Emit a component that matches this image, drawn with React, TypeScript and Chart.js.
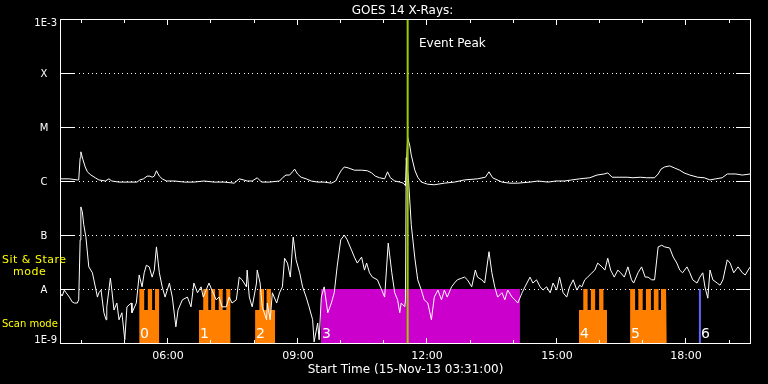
import { useEffect, useRef } from 'react';
import { Chart, registerables } from 'chart.js';

Chart.register(...registerables);

// ---- Axis definitions ----
const START_MINUTES = 211; // 03:31 UT
const END_MINUTES = 1171; // 19:31 UT
const classDecades = [-9, -8, -7, -6, -5, -4, -3];
const classLabels = ['1E-9', 'A', 'B', 'C', 'M', 'X', '1E-3'];
const hourTickMinutes = [240, 300, 360, 420, 480, 540, 600, 660, 720, 780, 840, 900, 960, 1020, 1080, 1140];
const labeledTickMinutes = [360, 540, 720, 900, 1080];
const labeledTickText = ['06:00', '09:00', '12:00', '15:00', '18:00'];

// ---- GOES 14 long channel (1-8 A): time in minutes after 00:00 UT, log10 flux ----
const longTimes = [
  211, 224, 235, 237, 239, 240, 243, 246, 249, 254,
  260, 265, 274, 279, 283, 293, 307, 318, 322, 327,
  332, 336, 339, 342, 345, 349, 353, 359, 370, 384,
  397, 411, 425, 439, 453, 460, 466, 471, 478, 485,
  491, 502, 516, 521, 525, 530, 534, 537, 541, 546,
  553, 560, 569, 578, 588, 594, 598, 602, 606, 612,
  620, 630, 638, 644, 649, 655, 662, 666, 670, 676,
  683, 688, 691, 694, 697, 699, 704, 708, 713, 722,
  731, 745, 759, 773, 791, 802, 807, 812, 825, 836,
  847, 864, 875, 889, 900, 912, 922, 933, 947, 957,
  967, 972, 978, 989, 999, 1007, 1017, 1026, 1037, 1042,
  1046, 1051, 1058, 1065, 1072, 1078, 1086, 1097, 1106, 1114,
  1122, 1131, 1138, 1143, 1150, 1159, 1170,
];
const longLogFlux = [
  -5.96, -5.96, -5.98, -5.98, -5.57, -5.46, -5.61, -5.74, -5.83, -5.89,
  -5.94, -5.98, -6.0, -5.96, -6.0, -6.02, -6.02, -6.02, -5.98, -5.96,
  -5.91, -5.91, -5.93, -5.91, -5.81, -5.91, -5.96, -6.0, -6.0, -6.02,
  -6.02, -6.0, -6.02, -6.02, -6.04, -5.96, -5.98, -6.0, -6.0, -5.94,
  -6.02, -6.02, -6.0, -5.93, -5.89, -5.89, -5.83, -5.78, -5.87, -5.93,
  -5.96, -6.0, -6.02, -6.02, -6.04, -6.0, -5.89, -5.8, -5.74, -5.76,
  -5.8, -5.8, -5.81, -5.85, -5.91, -5.94, -5.96, -5.83, -5.94, -6.0,
  -6.02, -6.04, -6.09, -5.19, -5.35, -5.52, -5.8, -5.93, -6.02, -6.06,
  -6.07, -6.04, -6.02, -5.98, -5.96, -5.93, -5.83, -5.94, -6.02, -6.04,
  -6.04, -6.02, -6.0, -6.02, -6.0, -6.0, -5.98, -5.96, -5.94, -5.89,
  -5.87, -5.85, -5.93, -5.93, -5.93, -5.94, -5.93, -5.94, -5.94, -5.87,
  -5.78, -5.74, -5.72, -5.76, -5.8, -5.85, -5.89, -5.93, -5.94, -5.98,
  -5.96, -5.94, -5.87, -5.87, -5.87, -5.89, -5.87,
];

// ---- GOES 14 short channel (0.5-4 A): time in minutes after 00:00 UT, log10 flux ----
const shortTimes = [
  211, 214, 217, 219, 224, 228, 231, 235, 237, 239,
  240, 242, 244, 247, 251, 256, 261, 263, 265, 268,
  272, 275, 276, 281, 283, 286, 290, 293, 297, 301,
  304, 310, 311, 317, 321, 325, 328, 331, 335, 339,
  342, 345, 349, 353, 357, 363, 367, 372, 375, 381,
  388, 393, 397, 402, 407, 410, 414, 418, 422, 428,
  432, 436, 442, 446, 450, 456, 460, 464, 470, 471,
  474, 478, 484, 485, 489, 492, 498, 499, 503, 506,
  512, 516, 520, 523, 527, 531, 535, 539, 544, 548,
  553, 557, 562, 564, 569, 571, 574, 578, 583, 588,
  592, 596, 601, 606, 610, 616, 620, 624, 630, 634,
  637, 641, 645, 652, 658, 662, 667, 672, 676, 680,
  683, 685, 690, 691, 692, 695, 699, 704, 708, 713,
  717, 722, 727, 731, 736, 741, 745, 749, 755, 759,
  763, 769, 773, 777, 783, 788, 791, 797, 801, 807,
  811, 815, 819, 825, 829, 833, 839, 843, 847, 853,
  857, 864, 868, 873, 878, 882, 887, 892, 896, 901,
  905, 910, 915, 919, 924, 929, 933, 936, 940, 944,
  950, 954, 958, 964, 968, 972, 976, 981, 986, 990,
  995, 1000, 1005, 1008, 1014, 1019, 1024, 1028, 1033, 1037,
  1042, 1047, 1051, 1058, 1063, 1068, 1072, 1076, 1082, 1086,
  1090, 1096, 1100, 1104, 1107, 1111, 1114, 1118, 1124, 1128,
  1132, 1138, 1142, 1147, 1153, 1159, 1163, 1167, 1170,
];
const shortLogFlux = [
  -8.07, -8.13, -8.02, -8.06, -8.15, -8.24, -8.26, -8.26, -8.2, -7.09,
  -6.48, -6.57, -6.81, -7.04, -7.59, -7.7, -8.02, -8.15, -8.07, -8.02,
  -8.44, -8.57, -8.33, -7.8, -8.02, -8.39, -8.26, -8.57, -8.44, -8.94,
  -8.33, -8.26, -8.44, -8.26, -7.74, -7.96, -7.7, -7.56, -7.59, -7.78,
  -7.65, -7.22, -7.7, -7.96, -8.15, -7.89, -8.15, -8.7, -8.39, -8.2,
  -8.15, -8.33, -7.89, -8.07, -7.96, -8.15, -8.02, -7.89, -8.02, -8.2,
  -8.15, -8.33, -8.33, -8.15, -8.26, -8.2, -7.78, -7.83, -7.96, -7.65,
  -8.15, -8.33, -7.89, -7.65, -7.89, -8.33, -8.57, -8.26, -8.57, -8.07,
  -8.26, -8.07, -7.96, -7.43, -7.52, -7.78, -7.04, -7.46, -7.7, -7.96,
  -8.15, -8.33, -8.57, -8.98, -8.63, -8.94, -8.15, -7.96, -8.44, -8.26,
  -8.07, -7.59, -7.09, -7.0, -7.09, -7.28, -7.41, -7.52, -7.41, -7.65,
  -7.52, -7.7, -7.78, -7.83, -8.02, -8.15, -7.15, -7.7, -8.07, -8.2,
  -8.44, -8.26, -8.33, -8.2, -5.57, -5.94, -6.81, -7.43, -7.83, -8.02,
  -8.2, -8.26, -8.57, -8.15, -8.02, -8.2, -8.02, -8.15, -7.96, -7.89,
  -7.83, -7.8, -7.78, -7.83, -7.96, -7.65, -7.78, -7.83, -7.89, -7.31,
  -7.7, -7.96, -8.15, -8.07, -8.2, -8.02, -8.15, -8.2, -8.26, -8.07,
  -7.96, -7.78, -7.89, -7.83, -7.96, -8.02, -7.96, -8.07, -7.89, -8.02,
  -7.78, -8.07, -8.15, -7.96, -7.83, -8.02, -7.93, -7.96, -7.83, -7.78,
  -7.7, -7.65, -7.52, -7.59, -7.65, -7.43, -7.65, -7.78, -7.65, -7.7,
  -7.78, -7.59, -7.83, -7.89, -7.7, -7.59, -7.78, -7.78, -7.83, -7.83,
  -7.22, -7.19, -7.22, -7.24, -7.41, -7.52, -7.65, -7.7, -7.59, -7.7,
  -7.83, -7.89, -7.78, -7.7, -7.96, -8.17, -7.65, -7.83, -7.89, -7.93,
  -7.83, -7.46, -7.52, -7.7, -7.59, -7.7, -7.74, -7.65, -7.59,
];

// ---- Observation mode blocks (minutes after 00:00 UT) ----
const scanLabels = ['0', '1', '2', '4', '5'];
const scanStart = [321, 404, 482, 932, 1003];
const scanEnd = [349, 448, 510, 971, 1054];
const scanTeethStart = [
  [321, 333, 343],
  [410, 421, 431.5, 442],
  [488, 498],
  [938, 948.5, 960],
  [1003, 1014.5, 1025, 1036, 1046],
];
const scanTeethEnd = [
  [328, 339, 349],
  [417, 426.5, 437, 448],
  [494.5, 504],
  [944, 954.5, 966],
  [1010, 1020.5, 1032, 1042.5, 1053],
];
const SCAN_BASE_FLUX = 4.1e-9;
const MODE_TOP_FLUX = 1e-8;
const sitStareLabel = '3';
const sitStareStart = 573.5;
const sitStareEnd = 850;
const pointingLabel = '6';
const pointingTime = 1100;
const eventPeakTime = 694;

const FONT = '"DejaVu Sans", sans-serif';
const ORANGE = '#ff8000';
const MAGENTA = '#cc00cc';
const BLUE = '#6464ff';
const GREEN = '#9ccc00';

type Pt = { x: number; y: number };

function buildScanPolygon(i: number): Pt[] {
  const pts: Pt[] = [
    { x: scanStart[i], y: 1e-9 },
    { x: scanStart[i], y: SCAN_BASE_FLUX },
  ];
  scanTeethStart[i].forEach((s, k) => {
    const e = scanTeethEnd[i][k];
    pts.push({ x: s, y: SCAN_BASE_FLUX }, { x: s, y: MODE_TOP_FLUX }, { x: e, y: MODE_TOP_FLUX }, { x: e, y: SCAN_BASE_FLUX });
  });
  pts.push({ x: scanEnd[i], y: SCAN_BASE_FLUX }, { x: scanEnd[i], y: 1e-9 });
  return pts;
}

const decorPlugin = {
  id: 'goesDecor',
  beforeDatasetsDraw(chart: any) {
    const { ctx, chartArea: a, scales } = chart;
    const y = scales.y;
    ctx.save();
    ctx.fillStyle = '#ffffff';
    for (let i = 1; i < classDecades.length - 1; i++) {
      const py = Math.round(y.getPixelForValue(Math.pow(10, classDecades[i])));
      ctx.fillRect(a.left, py, 15, 1);
      ctx.fillRect(a.right - 15, py, 15, 1);
      for (let px = a.left + 19; px < a.right - 17; px += 4.33) {
        ctx.fillRect(Math.round(px), py, 1, 1);
      }
    }
    ctx.restore();
  },
  afterDatasetsDraw(chart: any) {
    const { ctx, chartArea: a, scales } = chart;
    const x = scales.x;
    const y = scales.y;
    const left = a.left;
    const right = a.right - 1;
    const top = a.top;
    const bottom = a.bottom;
    ctx.save();
    ctx.fillStyle = '#ffffff';
    // frame
    ctx.fillRect(left, top, right - left + 1, 1);
    ctx.fillRect(left, bottom, right - left + 1, 1);
    ctx.fillRect(left, top, 1, bottom - top + 1);
    ctx.fillRect(right, top, 1, bottom - top + 1);
    // hour ticks
    hourTickMinutes.forEach((m) => {
      const px = Math.round(x.getPixelForValue(m));
      const len = labeledTickMinutes.includes(m) ? 6 : 4;
      ctx.fillRect(px, top, 1, len);
      ctx.fillRect(px, bottom - len + 1, 1, len);
    });

    // mode numbers
    ctx.font = `14px ${FONT}`;
    ctx.textAlign = 'left';
    ctx.textBaseline = 'alphabetic';
    scanLabels.forEach((lab, i) => {
      ctx.fillText(lab, Math.round(x.getPixelForValue(scanStart[i])) + 1, 338);
    });
    ctx.fillText(sitStareLabel, Math.round(x.getPixelForValue(sitStareStart)) + 1, 338);
    ctx.fillText(pointingLabel, Math.round(x.getPixelForValue(pointingTime)) + 1, 338);

    // event peak label
    ctx.font = `12px ${FONT}`;
    ctx.fillText('Event Peak', Math.round(x.getPixelForValue(eventPeakTime)) + 11, 47);

    // title
    const cx = (a.left + a.right) / 2;
    ctx.textAlign = 'center';
    ctx.fillText('GOES 14 X-Rays:', cx - 3, 14);

    // x tick labels
    ctx.font = `11px ${FONT}`;
    labeledTickMinutes.forEach((m, i) => {
      ctx.fillText(labeledTickText[i], Math.round(x.getPixelForValue(m)) + 1, 359);
    });
    ctx.font = `12px ${FONT}`;
    ctx.fillText('Start Time (15-Nov-13 03:31:00)', cx, 373);

    // y labels
    ctx.font = `10px ${FONT}`;
    ctx.textBaseline = 'middle';
    classDecades.forEach((d, i) => {
      const py = y.getPixelForValue(Math.pow(10, d));
      if (i === 0) {
        ctx.textAlign = 'right';
        ctx.fillText(classLabels[i], 57, py - 3);
      } else if (i === classDecades.length - 1) {
        ctx.textAlign = 'right';
        ctx.fillText(classLabels[i], 57, py + 4);
      } else {
        ctx.textAlign = 'center';
        ctx.fillText(classLabels[i], 44, py + 1);
      }
    });

    // mode legend on the left
    ctx.fillStyle = '#ffff00';
    ctx.textAlign = 'left';
    ctx.textBaseline = 'alphabetic';
    ctx.font = `11px ${FONT}`;
    ctx.letterSpacing = '0.5px';
    ctx.fillText('Sit & Stare', 2, 263);
    ctx.fillText('mode', 13, 275);
    ctx.letterSpacing = '0px';
    ctx.font = `10px ${FONT}`;
    ctx.fillText('Scan mode', 2, 327);
    ctx.restore();
  },
};

export default function App() {
  const canvasRef = useRef<HTMLCanvasElement | null>(null);

  useEffect(() => {
    document.body.style.margin = '0';
    document.body.style.background = '#000';
    const canvas = canvasRef.current;
    if (!canvas) return;

    const longData = longTimes.map((t, i) => ({ x: t, y: Math.pow(10, longLogFlux[i]) }));
    const shortData = shortTimes.map((t, i) => ({ x: t, y: Math.pow(10, shortLogFlux[i]) }));

    const datasets: any[] = [
      {
        label: 'Event Peak',
        data: [
          { x: eventPeakTime, y: 1e-9 },
          { x: eventPeakTime, y: 1e-3 },
        ],
        borderColor: GREEN,
        borderWidth: 2,
        pointRadius: 0,
        fill: false,
        order: 0,
      },
      {
        label: 'Long',
        data: longData,
        borderColor: '#ffffff',
        borderWidth: 1,
        pointRadius: 0,
        fill: false,
        order: 1,
      },
      {
        label: 'Short',
        data: shortData,
        borderColor: '#ffffff',
        borderWidth: 1,
        pointRadius: 0,
        fill: false,
        order: 1,
      },
      {
        label: 'Pointing',
        data: [
          { x: pointingTime, y: 1e-9 },
          { x: pointingTime, y: MODE_TOP_FLUX },
        ],
        borderColor: BLUE,
        borderWidth: 2,
        pointRadius: 0,
        fill: false,
        order: 2,
      },
      {
        label: 'Sit & Stare',
        data: [
          { x: sitStareStart, y: 1e-9 },
          { x: sitStareStart, y: MODE_TOP_FLUX },
          { x: sitStareEnd, y: MODE_TOP_FLUX },
          { x: sitStareEnd, y: 1e-9 },
        ],
        borderColor: 'transparent',
        borderWidth: 0,
        backgroundColor: MAGENTA,
        pointRadius: 0,
        fill: 'start',
        order: 3,
      },
      ...scanStart.map((_, i) => ({
        label: 'Scan ' + scanLabels[i],
        data: buildScanPolygon(i),
        borderColor: 'transparent',
        borderWidth: 0,
        backgroundColor: ORANGE,
        pointRadius: 0,
        fill: 'start',
        order: 3,
      })),
    ];

    const chart = new Chart(canvas, {
      type: 'line',
      data: { datasets },
      options: {
        animation: false,
        responsive: false,
        maintainAspectRatio: false,
        devicePixelRatio: 1,
        events: [],
        layout: { padding: { left: 60, right: 17, top: 19, bottom: 41 } },
        plugins: {
          legend: { display: false },
          tooltip: { enabled: false },
          title: { display: false },
        },
        elements: { line: { tension: 0 }, point: { radius: 0 } },
        scales: {
          x: { type: 'linear', min: START_MINUTES, max: END_MINUTES, display: false },
          y: { type: 'logarithmic', min: 1e-9, max: 1e-3, display: false },
        },
      } as any,
      plugins: [decorPlugin],
    });

    return () => chart.destroy();
  }, []);

  return (
    <div style={{ position: 'absolute', left: 0, top: 0, width: 768, height: 384, background: '#000' }}>
      <canvas ref={canvasRef} width={768} height={384} style={{ display: 'block', width: 768, height: 384 }} />
    </div>
  );
}
